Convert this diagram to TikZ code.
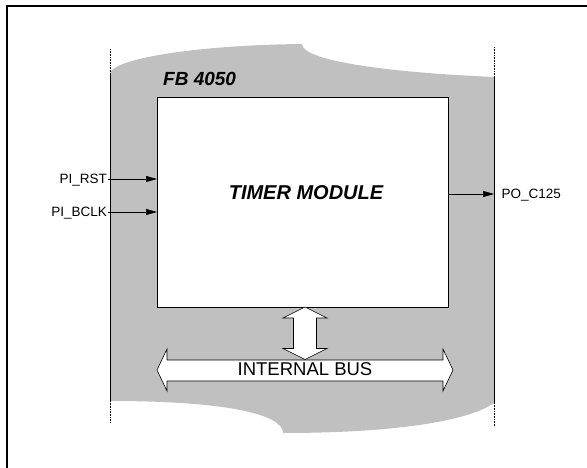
\documentclass[tikz,border=0pt]{standalone}
\usepackage{fontspec}
\setmainfont{Liberation Sans}
\usetikzlibrary{positioning, calc, arrows.meta}
\definecolor{Shade}{HTML}{C0C0C0}
\tikzset{
    modbox/.style={rectangle, draw=black, fill=white, line width=0.8pt, inner sep=0pt},
    title/.style={font=\bfseries\itshape\fontsize{19}{19}\selectfont, inner sep=0pt},
    pinlabel/.style={font=\fontsize{13.5}{13.5}\selectfont, inner sep=1pt, text depth=0pt},
    sig/.style={-{Triangle[length=11pt, width=6pt]}, line width=0.6pt},
    busarrow/.style={draw=black, fill=white, line width=0.6pt},
    guide/.style={densely dotted, line width=0.6pt},
}
\begin{document}
\begin{tikzpicture}[x=1pt, y=-1pt]
    \useasboundingbox (0,0) rectangle (587,468);
    % Frame
    \draw[line width=1.8pt] (7,480) -- (7,6) -- (600,6);

    % Torn sheet
    \fill[Shade] (110,73) .. controls (115,58) and (200,45) .. (302,44)
        .. controls (302,60) and (380,72) .. (494,77) -- (494,403)
        .. controls (470,420) and (400,433) .. (283,433)
        .. controls (283,415) and (230,401) .. (110,401) -- cycle;
    \draw[line width=0.6pt] (110,73) -- (110,401) (494,77) -- (494,403);
    \foreach \x/\a/\b in {110/49/73, 110/401/423, 494/47/77, 494/403/427}
        \draw[guide] (\x,\a) -- (\x,\b);

    \node[title, anchor=west] (fb) at (163,79) {FB 4050};
    \node[modbox, anchor=north west, minimum width=291pt, minimum height=210pt] (timer) at (157,97) {};
    \node[title, font=\bfseries\itshape\fontsize{20}{20}\selectfont] (tm) at (306,193) {TIMER MODULE};

    % Inputs
    \foreach \y/\n/\lbl in {179/rst/PI\_RST, 212/bclk/PI\_BCLK}{
        \node[pinlabel, anchor=east] (in-\n) at (108,\y) {\lbl};
        \draw[sig] (in-\n.east) -- (in-\n.east -| timer.west);
    }

    % Output
    \node[pinlabel, anchor=west, inner xsep=7.5pt] (out) at (494,194) {PO\_C125};
    \draw[sig] (timer.east |- out.west) -- (out.west);

    % Internal bus
    \draw[busarrow] (305,307) -- (327,318) -- (316.5,318) -- (316.5,348.5) -- (327,348.5)
        -- (305,359.5) -- (283,348.5) -- (293.5,348.5) -- (293.5,318) -- (283,318) -- cycle;
    \draw[busarrow] (157,370) -- (167,349) -- (167,360) -- (443,360) -- (443,349)
        -- (453,370) -- (443,391) -- (443,381) -- (167,381) -- (167,391) -- cycle;
    \node[font=\fontsize{18.5}{18.5}\selectfont, inner sep=0pt] (bus) at (305,369) {INTERNAL BUS};
\end{tikzpicture}
\end{document}
